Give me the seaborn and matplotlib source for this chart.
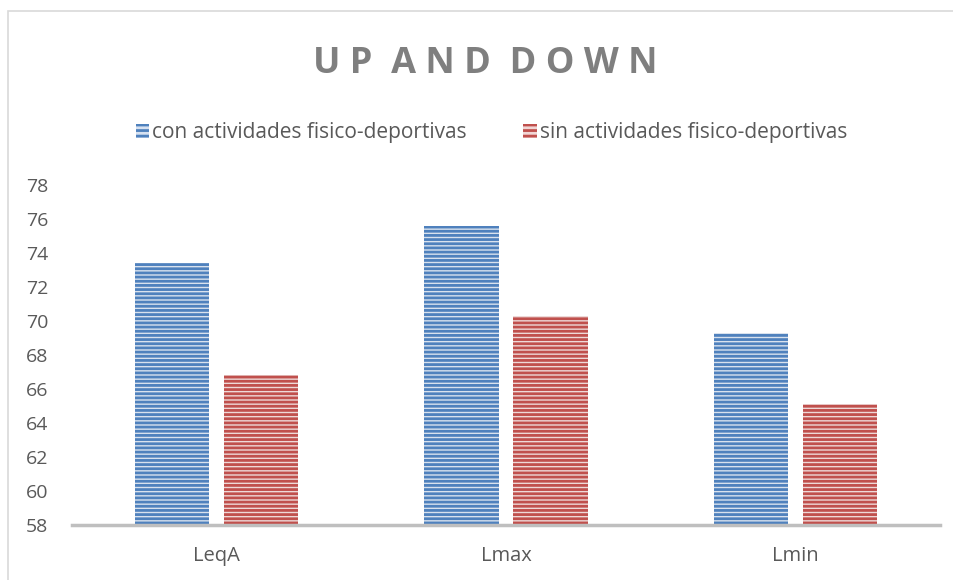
import pandas as pd
import matplotlib.pyplot as plt
import matplotlib.patches as mpatches
import seaborn as sns

# Chart data
categories = ["LeqA", "Lmax", "Lmin"]
series_names = ["con actividades fisico-deportivas", "sin actividades fisico-deportivas"]
con_values = [73.4, 75.6, 69.3]
sin_values = [66.8, 70.3, 65.1]
y_ticks = [58, 60, 62, 64, 66, 68, 70, 72, 74, 76, 78]
title = "UP AND DOWN"

df = pd.DataFrame({
    "cat": categories * 2,
    "serie": [series_names[0]] * 3 + [series_names[1]] * 3,
    "valor": con_values + sin_values,
})

sns.set_theme(style="white")
plt.rcParams["font.family"] = ["Open Sans", "DejaVu Sans"]
plt.rcParams["hatch.linewidth"] = 2.0

edge_cols = ["#4f81bd", "#c0504d"]
face_cols = ["#d6e1f1", "#f1d6d5"]

fig = plt.figure(figsize=(9.54, 5.8), dpi=100)
ax = fig.add_axes([0.0755, 0.095, 0.91, 0.586])

sns.barplot(data=df, x="cat", y="valor", hue="serie", order=categories,
            hue_order=series_names, palette=face_cols, width=0.616, gap=0.166,
            ax=ax, legend=False, bottom=0)

for container, ec in zip(ax.containers, edge_cols):
    for bar in container:
        bar.set_hatch("----")
        bar.set_edgecolor(ec)
        bar.set_linewidth(0)

ax.set_ylim(58, 78)
ax.set_xlim(-0.5, 2.5)
ax.set_yticks(y_ticks)
ax.set_xlabel("")
ax.set_ylabel("")
ax.tick_params(axis="both", length=0, colors="#595959")
ax.tick_params(axis="y", pad=33, labelsize=14)
ax.tick_params(axis="x", pad=15, labelsize=14.5)
for lbl in ax.get_yticklabels():
    lbl.set_horizontalalignment("left")
for s in ["top", "right", "left"]:
    ax.spines[s].set_visible(False)
ax.spines["bottom"].set_color("#bfbfbf")
ax.spines["bottom"].set_linewidth(2.5)

# legend
handles = [mpatches.Patch(facecolor=f, edgecolor=e, hatch="---", linewidth=0, label=n)
           for f, e, n in zip(face_cols, edge_cols, series_names)]
fig.legend(handles=handles, loc="center", bbox_to_anchor=(0.515, 0.771), ncol=2,
           frameon=False, fontsize=15, labelcolor="#595959", handlelength=0.65,
           handleheight=0.65, handletextpad=0.15, columnspacing=2.7)

# title with letter spacing
fig.text(0.509, 0.89, " ".join(title).replace("   ", "  "), ha="center", va="center",
         fontsize=26, fontweight="bold", color="#7f7f7f")

# outer chart border
fig.patches.append(mpatches.Rectangle((0.0085, -0.01), 1.0, 0.991, transform=fig.transFigure,
                                      fill=False, edgecolor="#d9d9d9", linewidth=1.2))

fig.savefig("out.png", dpi=100)
